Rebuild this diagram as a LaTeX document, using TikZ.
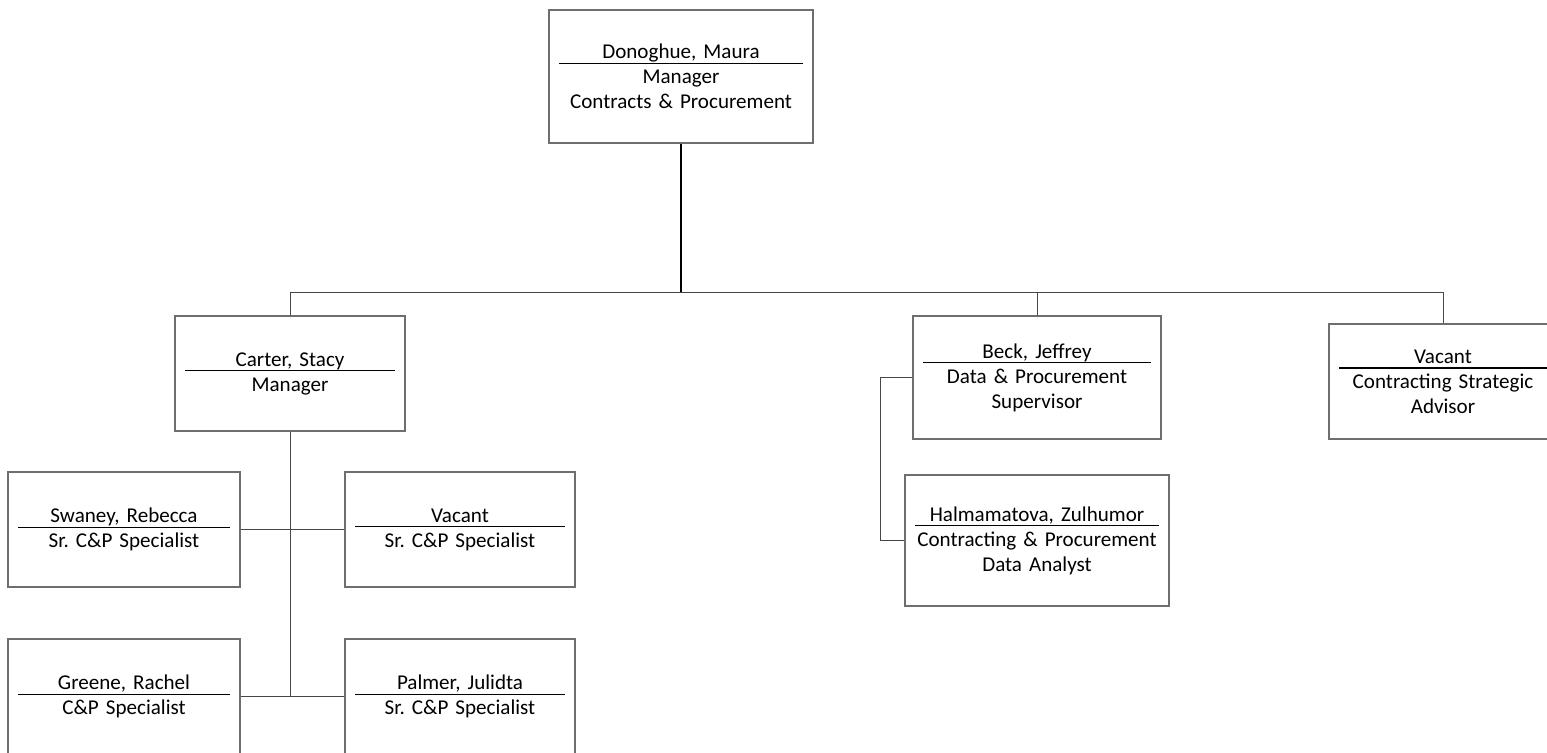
\documentclass[tikz,border=0pt]{standalone}
\usepackage{fontspec}
\setmainfont{Carlito}
\usepackage{tikz}
\usetikzlibrary{positioning}
\usepackage{xcolor}
\definecolor{boxgray}{RGB}{110,110,110}
\definecolor{linegray}{RGB}{70,70,70}
\tikzstyle{orgbox} = [rectangle, draw=boxgray, line width=0.8pt, align=center, inner sep=0pt, font=\fontsize{12}{14.2}\selectfont\frenchspacing]
\tikzstyle{wide} = [minimum width=5.28cm, text width=4.88cm]
\tikzstyle{narrow} = [minimum width=4.6cm, text width=4.2cm, minimum height=2.3cm]
\tikzstyle{orgline} = [draw=linegray, line width=0.5pt]
\newcommand{\orgtext}[2]{#1\\[-11.2pt]\rule{\linewidth}{0.6pt}\\[-3pt]#2}

\begin{document}
\frenchspacing
\begin{tikzpicture}[x=0.02cm, y=-0.02cm]
\useasboundingbox (0,0) rectangle (1547,752);
\clip (0,0) rectangle (1547,752);

% Top
\node (donoghue) [orgbox, wide, minimum height=2.66cm] at (681,76.5) {\orgtext{Donoghue, Maura}{Manager\\Contracts \& Procurement}};

% Second level
\node (carter) [orgbox, narrow] at (290,373.5) {\orgtext{Carter, Stacy}{Manager}};
\node (beck) [orgbox, minimum width=4.96cm, text width=4.56cm, minimum height=2.46cm] at (1037,377.5) {\orgtext{Beck, Jeffrey}{Data \& Procurement\\Supervisor}};
\node (advisor) [orgbox, minimum width=4.56cm, text width=4.16cm, minimum height=2.3cm] at (1443,381.5) {\orgtext{Vacant}{Contracting Strategic\\Advisor}};

% Carter's team
\node (swaney) [orgbox, narrow, minimum width=4.64cm, text width=4.24cm] at (124,529.5) {\orgtext{Swaney, Rebecca}{Sr. C\&P Specialist}};
\node (vacantsr) [orgbox, narrow] at (460,529.5) {\orgtext{Vacant}{Sr. C\&P Specialist}};
\node (greene) [orgbox, narrow, minimum width=4.64cm, text width=4.24cm] at (124,696.5) {\orgtext{Greene, Rachel}{C\&P Specialist}};
\node (palmer) [orgbox, narrow] at (460,696.5) {\orgtext{Palmer, Julidta}{Sr. C\&P Specialist}};

% Beck's team
\node (halmamatova) [orgbox, wide, minimum height=2.62cm] at (1037,540.5) {\orgtext{Halmamatova, Zulhumor}{Contracting \& Procurement\\Data Analyst}};

% Connections
\coordinate (bar) at (681,292);
\draw[orgline, line width=0.9pt, draw=black] (donoghue.south) -- (bar);
\draw[orgline] (carter.north) |- (bar) -| (advisor.north);
\draw[orgline] (beck.north) -- (beck.north |- bar);

\draw[orgline] (carter.south) -- (carter.south |- greene.east);
\draw[orgline] (swaney.east) -- (vacantsr.west);
\draw[orgline] (greene.east) -- (palmer.west);

\draw[orgline] (beck.west) -- ++(-32,0) |- (halmamatova.west);
\end{tikzpicture}
\end{document}
